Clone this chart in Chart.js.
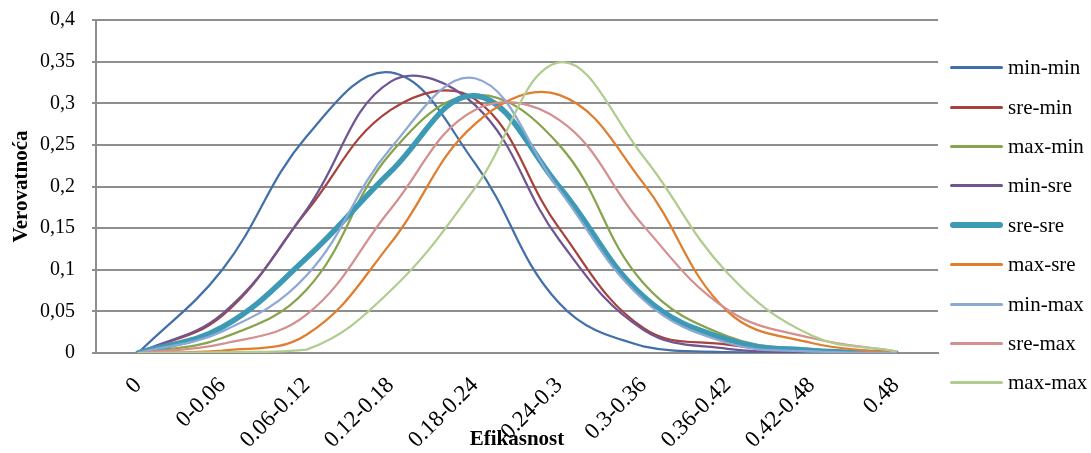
<!DOCTYPE html>
<html>
<head>
    <title>Efikasnost</title>
    <script src="https://cdn.jsdelivr.net/npm/chart.js@4/dist/chart.umd.min.js"></script>
    <style>
        body { margin: 0; background: #fff; }
        .wrap { position: relative; width: 1091px; height: 453px; }
        .legend {
            position: absolute;
            left: 950px;
            top: 48px;
            font-family: "Liberation Serif", serif;
            font-size: 21px;
            color: #000;
        }
        .legend-row {
            display: flex;
            align-items: center;
            height: 39.4px;
        }
        .legend-line {
            width: 53px;
            margin-right: 5px;
            border-radius: 3px;
        }
    </style>
</head>
<body>
    <div class="wrap">
        <canvas id="chart" width="1091" height="453"></canvas>
        <div class="legend" id="legend"></div>
    </div>

    <script>
        const categories = ['0', '0-0.06', '0.06-0.12', '0.12-0.18', '0.18-0.24', '0.24-0.3', '0.3-0.36', '0.36-0.42', '0.42-0.48', '0.48'];
        const yTickLabels = ['0', '0,05', '0,1', '0,15', '0,2', '0,25', '0,3', '0,35', '0,4'];

        const seriesNames = ['min-min', 'sre-min', 'max-min', 'min-sre', 'sre-sre', 'max-sre', 'min-max', 'sre-max', 'max-max'];
        const minMin = [0, 0.1, 0.26, 0.337, 0.228, 0.06, 0.008, 0.001, 0, 0];
        const sreMin = [0, 0.045, 0.17, 0.292, 0.305, 0.15, 0.03, 0.01, 0.002, 0];
        const maxMin = [0, 0.018, 0.076, 0.24, 0.31, 0.25, 0.084, 0.02, 0.004, 0];
        const minSre = [0, 0.047, 0.172, 0.326, 0.298, 0.136, 0.028, 0.005, 0.001, 0];
        const sreSre = [0, 0.031, 0.114, 0.218, 0.309, 0.2, 0.068, 0.016, 0.003, 0];
        const maxSre = [0, 0.003, 0.022, 0.132, 0.275, 0.31, 0.204, 0.05, 0.012, 0];
        const minMax = [0, 0.026, 0.093, 0.246, 0.33, 0.196, 0.064, 0.012, 0.002, 0];
        const sreMax = [0, 0.011, 0.046, 0.173, 0.292, 0.28, 0.153, 0.052, 0.018, 0.002];
        const maxMax = [0, 0.001, 0.004, 0.075, 0.198, 0.349, 0.236, 0.096, 0.021, 0.002];

        const seriesValues = [minMin, sreMin, maxMin, minSre, sreSre, maxSre, minMax, sreMax, maxMax];
        const colors = ['#4370A9', '#A8403C', '#87A34B', '#6F5592', '#3D9AB4', '#E07E2F', '#8DA8D4', '#D48F8E', '#B1CC8E'];
        const widths = [2.25, 2.25, 2.25, 2.25, 5.5, 2.25, 2.25, 2.25, 2.25];

        const datasets = seriesNames.map((name, i) => ({
            label: name,
            data: seriesValues[i],
            borderColor: colors[i],
            backgroundColor: colors[i],
            borderWidth: widths[i],
            borderCapStyle: 'round',
            pointRadius: 0,
            tension: 0.4,
            fill: false,
            order: seriesNames.length - i
        }));

        const serif = "'Liberation Serif', 'Times New Roman', serif";

        new Chart(document.getElementById('chart'), {
            type: 'line',
            data: { labels: categories, datasets: datasets },
            options: {
                responsive: false,
                animation: false,
                layout: { padding: { top: 20, right: 153, left: 0, bottom: 0 } },
                plugins: {
                    legend: { display: false },
                    tooltip: { enabled: false }
                },
                scales: {
                    x: {
                        offset: true,
                        grid: { display: false },
                        border: { display: true, color: '#8e8e8e', width: 2 },
                        ticks: {
                            color: '#000',
                            font: { family: serif, size: 23 },
                            minRotation: 45,
                            maxRotation: 45,
                            padding: 11,
                            autoSkip: false
                        },
                        title: {
                            display: true,
                            text: 'Efikasnost',
                            color: '#000',
                            font: { family: serif, size: 21, weight: 'bold' },
                            padding: { top: 0, bottom: 1 }
                        },
                        afterFit: scale => {
                            scale.height = 100;
                            scale.paddingLeft = 0;
                            scale.paddingRight = 0;
                        }
                    },
                    y: {
                        min: 0,
                        max: 0.4,
                        grid: { color: '#8e8e8e', lineWidth: 2, tickLength: 4 },
                        border: { display: true, color: '#8e8e8e', width: 2 },
                        ticks: {
                            stepSize: 0.05,
                            color: '#000',
                            font: { family: serif, size: 20 },
                            padding: 17,
                            callback: (value, index) => yTickLabels[index]
                        },
                        title: {
                            display: true,
                            text: 'Verovatnoća',
                            color: '#000',
                            font: { family: serif, size: 21, weight: 'bold' },
                            padding: { top: 9, bottom: 0 }
                        },
                        afterFit: scale => {
                            scale.width = 96;
                            scale.paddingTop = 0;
                            scale.paddingBottom = 0;
                        }
                    }
                }
            }
        });

        // legend on the right, built from the same arrays
        const legend = document.getElementById('legend');
        seriesNames.forEach((name, i) => {
            const row = document.createElement('div');
            row.className = 'legend-row';
            const line = document.createElement('div');
            line.className = 'legend-line';
            line.style.height = (i === 4 ? 6 : 3) + 'px';
            line.style.background = colors[i];
            const text = document.createElement('span');
            text.textContent = name;
            row.appendChild(line);
            row.appendChild(text);
            legend.appendChild(row);
        });
    </script>
</body>
</html>
